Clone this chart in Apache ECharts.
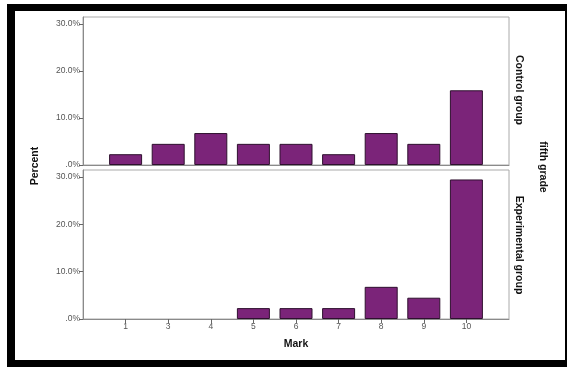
<!DOCTYPE html>
<html>
<head>
<meta charset="utf-8">
<script src="https://cdn.jsdelivr.net/npm/echarts@6/dist/echarts.min.js"></script>
<style>
html,body{margin:0;padding:0;background:#fff;}
#c{width:567px;height:370px;}
</style>
</head>
<body>
<div id="c"></div>
<script>
// Data
var categories = ['1', '3', '4', '5', '6', '7', '8', '9', '10'];
var controlGroup = [2.3, 4.5, 6.8, 4.5, 4.5, 2.3, 6.8, 4.5, 15.9];
var experimentalGroup = [0, 0, 0, 2.3, 2.3, 2.3, 6.8, 4.5, 29.5];
var yTicks = [0, 10, 20, 30];
var panelNames = ['Control group', 'Experimental group'];
var facetName = 'fifth grade';
var xTitle = 'Mark';
var yTitle = 'Percent';

var positions = categories.map(function (c, i) { return i + 1; });
function toData(arr) {
  return arr.map(function (v, i) { return [i + 1, v === 0 ? null : v]; });
}
function yFmt(v) { return v === 0 ? '.0%' : v.toFixed(1) + '%'; }

var axisColor = '#8a8a8a';
var labelStyle = { color: '#555', fontSize: 8.5, fontFamily: 'Arial, "Liberation Sans", sans-serif' };
var titleFont = 'bold 10.5px Arial, "Liberation Sans", sans-serif';

function xAxisCfg(idx, showLabels) {
  return {
    type: 'value', gridIndex: idx, min: 0, max: 10,
    axisLine: { show: true, lineStyle: { color: axisColor, width: 1 } },
    axisTick: { show: showLabels, length: 4, customValues: positions, lineStyle: { color: '#666' } },
    axisLabel: {
      show: showLabels, margin: 3, customValues: positions,
      formatter: function (v) { return categories[Math.round(v) - 1] || ''; },
      color: labelStyle.color, fontSize: labelStyle.fontSize, fontFamily: labelStyle.fontFamily
    },
    splitLine: { show: false }
  };
}
function yAxisCfg(idx) {
  return {
    type: 'value', gridIndex: idx, min: 0, max: 31.5,
    axisLine: { show: true, lineStyle: { color: axisColor, width: 1 } },
    axisTick: { show: true, length: 4, customValues: yTicks, lineStyle: { color: '#666' } },
    axisLabel: {
      show: true, margin: 3, customValues: yTicks, formatter: yFmt,
      color: labelStyle.color, fontSize: labelStyle.fontSize, fontFamily: labelStyle.fontFamily
    },
    splitLine: { show: false }
  };
}

var barStyle = { color: '#7b2479', borderColor: '#2e102e', borderWidth: 1 };

var chart = echarts.init(document.getElementById('c'), null, { renderer: 'canvas' });
chart.setOption({
  animation: false,
  backgroundColor: '#fff',
  grid: [
    { left: 83, width: 426, top: 17, height: 148, show: true, borderColor: '#aaa', borderWidth: 1, backgroundColor: '#fff' },
    { left: 83, width: 426, top: 170, height: 149, show: true, borderColor: '#aaa', borderWidth: 1, backgroundColor: '#fff' }
  ],
  xAxis: [xAxisCfg(0, false), xAxisCfg(1, true)],
  yAxis: [yAxisCfg(0), yAxisCfg(1)],
  series: [
    { type: 'bar', xAxisIndex: 0, yAxisIndex: 0, barWidth: 33, data: toData(controlGroup), itemStyle: barStyle },
    { type: 'bar', xAxisIndex: 1, yAxisIndex: 1, barWidth: 33, data: toData(experimentalGroup), itemStyle: barStyle }
  ],
  graphic: [
    { type: 'rect', z: -10, shape: { x: 7, y: 4, width: 562, height: 363 }, style: { fill: '#000' } },
    { type: 'rect', z: -9, shape: { x: 15, y: 11, width: 550, height: 349 }, style: { fill: '#fff' } },
    { type: 'text', x: 35, y: 166, rotation: Math.PI / 2, style: { text: yTitle, font: titleFont, fill: '#111', align: 'center', verticalAlign: 'middle' } },
    { type: 'text', x: 296, y: 344, style: { text: xTitle, font: titleFont, fill: '#111', align: 'center', verticalAlign: 'middle' } },
    { type: 'text', x: 519, y: 90, rotation: -Math.PI / 2, style: { text: panelNames[0], font: titleFont, fill: '#111', align: 'center', verticalAlign: 'middle' } },
    { type: 'text', x: 519, y: 245, rotation: -Math.PI / 2, style: { text: panelNames[1], font: titleFont, fill: '#111', align: 'center', verticalAlign: 'middle' } },
    { type: 'text', x: 543, y: 167, rotation: -Math.PI / 2, style: { text: facetName, font: titleFont, fill: '#111', align: 'center', verticalAlign: 'middle' } }
  ]
});
</script>
</body>
</html>
